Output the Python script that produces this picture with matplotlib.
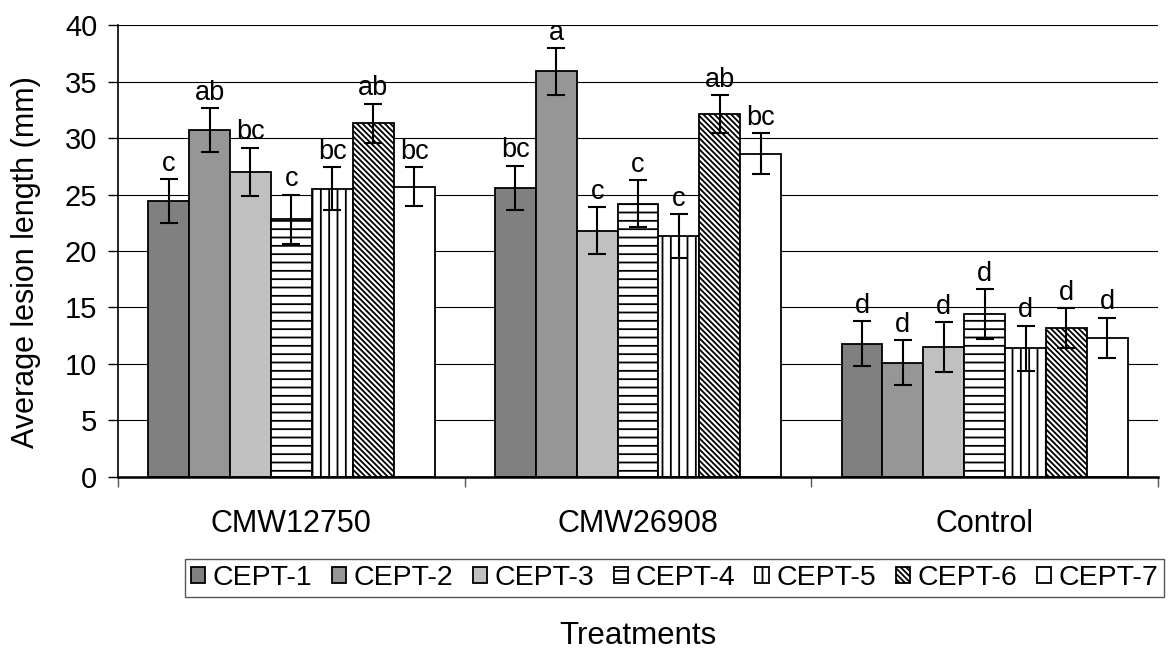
import matplotlib
matplotlib.use("Agg")
import matplotlib.pyplot as plt
import numpy as np

plt.rcParams['font.family'] = ['Liberation Sans', 'DejaVu Sans']
plt.rcParams['hatch.linewidth'] = 1.3

# treatments on the x axis, isolates as the bar series
groups = ['CMW12750', 'CMW26908', 'Control']
series = ['CEPT-1', 'CEPT-2', 'CEPT-3', 'CEPT-4', 'CEPT-5', 'CEPT-6', 'CEPT-7']

cmw12750_mean = [24.4, 30.7, 27.0, 22.8, 25.5, 31.3, 25.7]
cmw12750_err = [1.95, 1.95, 2.15, 2.2, 1.9, 1.75, 1.7]
cmw26908_mean = [25.6, 35.9, 21.8, 24.2, 21.3, 32.1, 28.6]
cmw26908_err = [1.95, 2.05, 2.05, 2.1, 1.95, 1.7, 1.8]
control_mean = [11.8, 10.1, 11.5, 14.4, 11.4, 13.2, 12.3]
control_err = [2.0, 2.0, 2.2, 2.2, 2.0, 1.75, 1.8]

cmw12750_sig = ['c', 'ab', 'bc', 'c', 'bc', 'ab', 'bc']
cmw26908_sig = ['bc', 'a', 'c', 'c', 'c', 'ab', 'bc']
control_sig = ['d', 'd', 'd', 'd', 'd', 'd', 'd']

means = np.array([cmw12750_mean, cmw26908_mean, control_mean])
errs = np.array([cmw12750_err, cmw26908_err, control_err])
sigs = [cmw12750_sig, cmw26908_sig, control_sig]

fills = ['#808080', '#969696', '#c0c0c0', 'white', 'white', 'white', 'white']
hatches = [None, None, None, '--', '||', '\\' * 6, None]

fig = plt.figure(figsize=(11.69, 6.55), dpi=100)
ax = fig.add_axes([0.101, 0.2718, 0.8896, 0.69])

x = np.arange(len(groups))
w = 0.118
for i in range(len(series)):
    pos = x + (i - 3) * w
    ax.bar(pos, means[:, i], w, color=fills[i], hatch=hatches[i],
           edgecolor='black', linewidth=1.3, label=series[i], zorder=2)
    ax.errorbar(pos, means[:, i], yerr=errs[:, i], fmt='none', ecolor='black',
                elinewidth=1.5, capsize=6.5, capthick=1.5, zorder=3)
    for j in range(len(groups)):
        ax.text(pos[j], means[j, i] + errs[j, i] + 0.2, sigs[j][i],
                ha='center', va='bottom', fontsize=19.5, zorder=4)

ax.set_ylim(0, 40)
ax.set_xlim(-0.5, 2.5)
ax.set_yticks(range(0, 41, 5))
ax.tick_params(axis='y', labelsize=21, length=7, width=1, direction='out', pad=8)
ax.yaxis.grid(True, color='black', linewidth=0.8)
ax.set_axisbelow(True)

# group boundaries carry the ticks, names sit between them
ax.set_xticks([-0.5, 0.5, 1.5, 2.5])
ax.set_xticklabels([])
ax.set_xticks(x, minor=True)
ax.set_xticklabels(groups, minor=True)
ax.tick_params(axis='x', which='major', length=7, width=1, color='#555555')
ax.tick_params(axis='x', which='minor', length=0, labelsize=22, pad=23)

for s in ['top', 'right']:
    ax.spines[s].set_visible(False)
ax.spines['left'].set_linewidth(1.2)
ax.spines['bottom'].set_linewidth(1.8)

fig.text(0.022, 1 - 262 / 655, 'Average lesion length (mm)', rotation=90,
         ha='center', va='center', fontsize=22)
fig.text(0.546, 1 - 636 / 655, 'Treatments', ha='center', va='center', fontsize=22.5)

leg = fig.legend(loc='center', bbox_to_anchor=(0.577, 1 - 578 / 655), ncol=7,
                 fontsize=20.5, handlelength=0.5, handleheight=0.5,
                 handletextpad=0.25, columnspacing=0.7, borderpad=0.2,
                 borderaxespad=0, fancybox=False, framealpha=1)
leg.get_frame().set_edgecolor('#555555')
leg.get_frame().set_linewidth(1)

fig.savefig('out.png', dpi=100)
